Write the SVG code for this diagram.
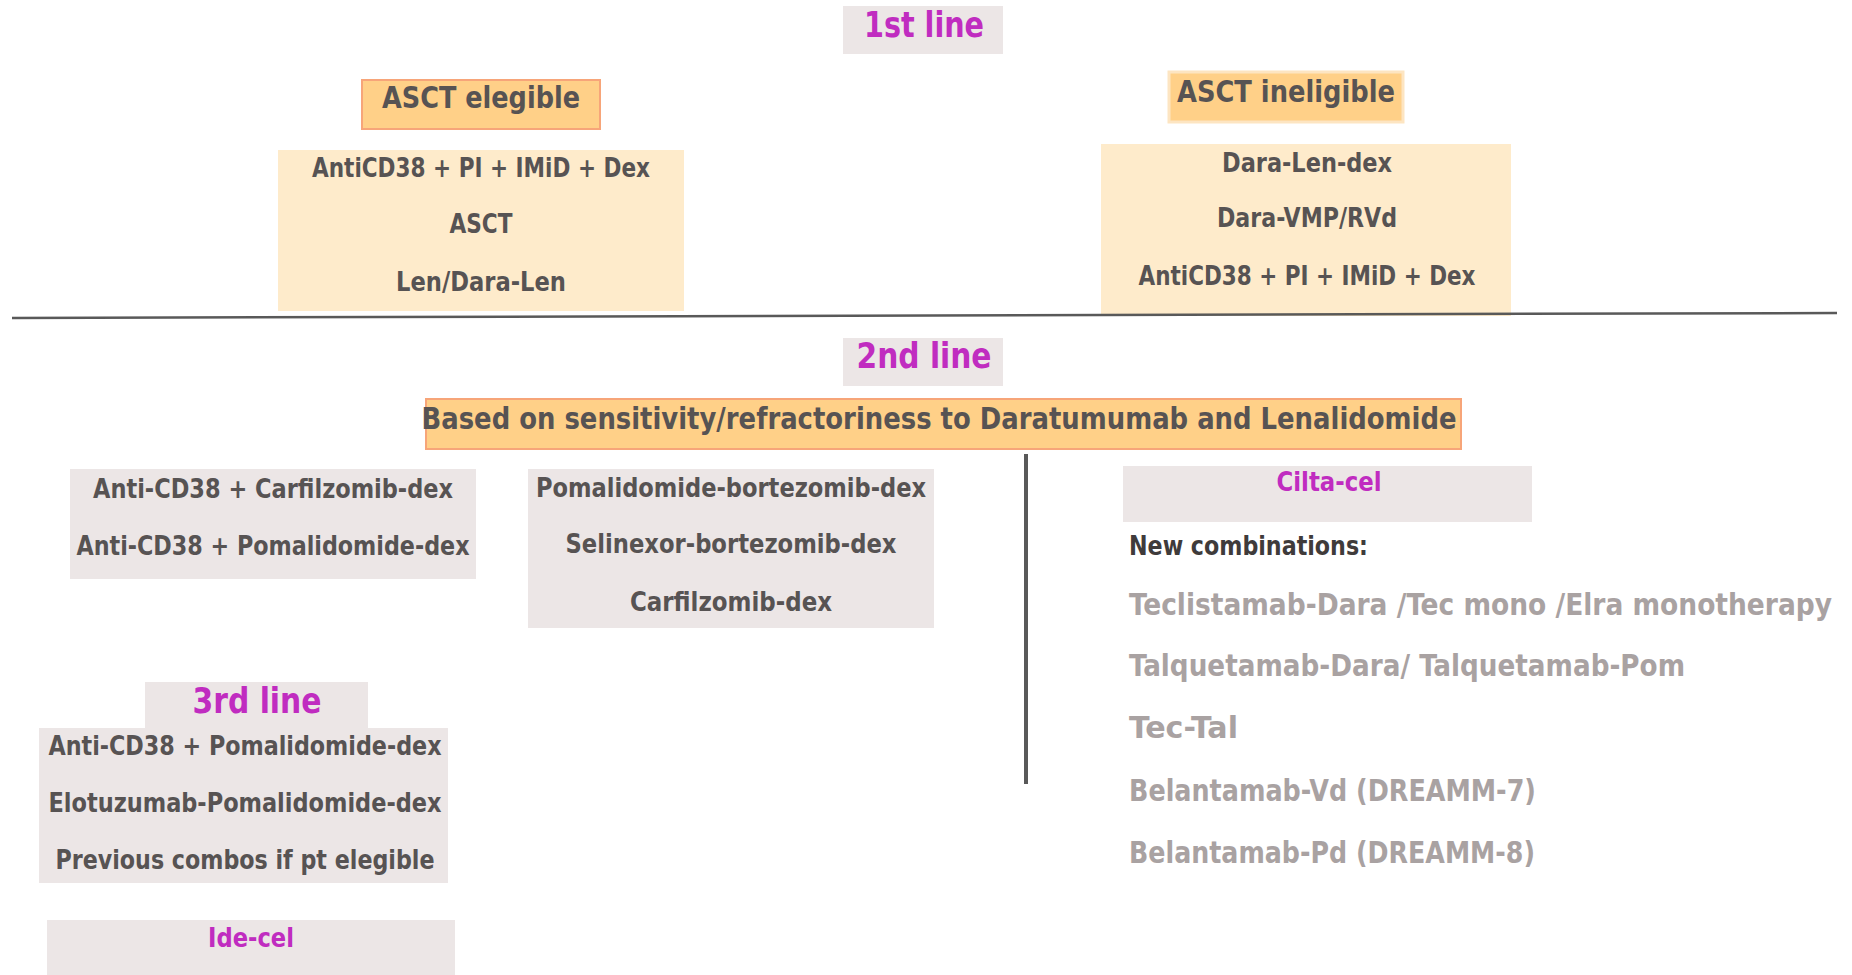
<svg xmlns="http://www.w3.org/2000/svg" width="1852" height="975" viewBox="0 0 1852 975">
<style>
text{font-family:"DejaVu Sans Condensed","DejaVu Sans",sans-serif;}
.hd{fill:#C02CC0;font-size:36px;font-weight:bold;text-anchor:middle;}
.mg{fill:#C02CC0;font-size:26px;font-weight:bold;text-anchor:middle;}
.dk{fill:#575353;font-size:27px;font-weight:bold;text-anchor:middle;}
.ttl{fill:#575353;font-size:30px;font-weight:bold;text-anchor:middle;}
.gr{fill:#A9A2A2;font-size:30px;font-weight:bold;}
.lb{fill:#FEEBCB;}
.or{fill:#FFD088;stroke:#F7A579;stroke-width:2;}
.or2{fill:#FFD088;stroke:#FDE5C2;stroke-width:3;}
.gy{fill:#ECE6E6;}
</style>
<rect width="1852" height="975" fill="#fff"/>
<g id="line1"><rect class="gy" x="843" y="6" width="160" height="48"/><text class="hd" x="924" y="37" textLength="120" lengthAdjust="spacingAndGlyphs">1st line</text></g>
<g id="asct-elegible"><rect class="or" x="362" y="80" width="238" height="49"/><text class="ttl" x="481" y="108" textLength="198" lengthAdjust="spacingAndGlyphs">ASCT elegible</text></g>
<g id="elegible-box"><rect class="lb" x="278" y="150" width="406" height="161"/>
<text class="dk" x="481" y="177" textLength="338" lengthAdjust="spacingAndGlyphs">AntiCD38 + PI + IMiD + Dex</text>
<text class="dk" x="481" y="233" textLength="63" lengthAdjust="spacingAndGlyphs">ASCT</text>
<text class="dk" x="481" y="291" textLength="170" lengthAdjust="spacingAndGlyphs">Len/Dara-Len</text></g>
<g id="asct-ineligible"><rect class="or2" x="1169" y="72" width="234" height="50"/><text class="ttl" x="1286" y="102" textLength="218" lengthAdjust="spacingAndGlyphs">ASCT ineligible</text></g>
<g id="ineligible-box"><rect class="lb" x="1101" y="144" width="410" height="172"/>
<text class="dk" x="1307" y="172" textLength="170" lengthAdjust="spacingAndGlyphs">Dara-Len-dex</text>
<text class="dk" x="1307" y="227" textLength="180" lengthAdjust="spacingAndGlyphs">Dara-VMP/RVd</text>
<text class="dk" x="1307" y="285" textLength="337" lengthAdjust="spacingAndGlyphs">AntiCD38 + PI + IMiD + Dex</text></g>
<g id="line2"><rect class="gy" x="843" y="338" width="160" height="48"/><text class="hd" x="924" y="368" textLength="135" lengthAdjust="spacingAndGlyphs">2nd line</text></g>
<g id="based-on"><rect class="or" x="426" y="399" width="1035" height="50"/><text class="ttl" x="939" y="429" textLength="1035" lengthAdjust="spacingAndGlyphs">Based on sensitivity/refractoriness to Daratumumab and Lenalidomide</text></g>
<g id="second-left"><rect class="gy" x="70" y="469" width="406" height="110"/>
<text class="dk" x="273" y="498" textLength="360" lengthAdjust="spacingAndGlyphs">Anti-CD38 + Carfilzomib-dex</text>
<text class="dk" x="273" y="555" textLength="393" lengthAdjust="spacingAndGlyphs">Anti-CD38 + Pomalidomide-dex</text></g>
<g id="second-mid"><rect class="gy" x="528" y="469" width="406" height="159"/>
<text class="dk" x="731" y="497" textLength="390" lengthAdjust="spacingAndGlyphs">Pomalidomide-bortezomib-dex</text>
<text class="dk" x="731" y="553" textLength="331" lengthAdjust="spacingAndGlyphs">Selinexor-bortezomib-dex</text>
<text class="dk" x="731" y="611" textLength="202" lengthAdjust="spacingAndGlyphs">Carfilzomib-dex</text></g>
<g id="cilta-cel"><rect class="gy" x="1123" y="466" width="409" height="56"/><text class="mg" x="1329" y="491" textLength="105" lengthAdjust="spacingAndGlyphs">Cilta-cel</text></g>
<g id="new-combinations">
<text x="1129" y="555" fill="#3F3B3B" font-size="26" font-weight="bold" textLength="239" lengthAdjust="spacingAndGlyphs">New combinations:</text>
<text class="gr" x="1129" y="615" textLength="703" lengthAdjust="spacingAndGlyphs">Teclistamab-Dara /Tec mono /Elra monotherapy</text>
<text class="gr" x="1129" y="676" textLength="556" lengthAdjust="spacingAndGlyphs">Talquetamab-Dara/ Talquetamab-Pom</text>
<text class="gr" x="1129" y="738" textLength="109" lengthAdjust="spacingAndGlyphs">Tec-Tal</text>
<text class="gr" x="1129" y="801" textLength="407" lengthAdjust="spacingAndGlyphs">Belantamab-Vd (DREAMM-7)</text>
<text class="gr" x="1129" y="863" textLength="406" lengthAdjust="spacingAndGlyphs">Belantamab-Pd (DREAMM-8)</text></g>
<g id="line3"><rect class="gy" x="145" y="682" width="223" height="47"/><text class="hd" x="257" y="713" textLength="129" lengthAdjust="spacingAndGlyphs">3rd line</text></g>
<g id="third-box"><rect class="gy" x="39" y="728" width="409" height="155"/>
<text class="dk" x="245" y="755" textLength="393" lengthAdjust="spacingAndGlyphs">Anti-CD38 + Pomalidomide-dex</text>
<text class="dk" x="245" y="812" textLength="393" lengthAdjust="spacingAndGlyphs">Elotuzumab-Pomalidomide-dex</text>
<text class="dk" x="245" y="869" textLength="379" lengthAdjust="spacingAndGlyphs">Previous combos if pt elegible</text></g>
<g id="ide-cel"><rect class="gy" x="47" y="920" width="408" height="55"/><text class="mg" x="251" y="947" textLength="86" lengthAdjust="spacingAndGlyphs">Ide-cel</text></g>
<g id="connectors">
<line x1="12" y1="318" x2="1837" y2="313" stroke="#595959" stroke-width="2.5"/>
<line x1="1026" y1="454" x2="1026" y2="784" stroke="#595959" stroke-width="4"/>
</g>
</svg>
